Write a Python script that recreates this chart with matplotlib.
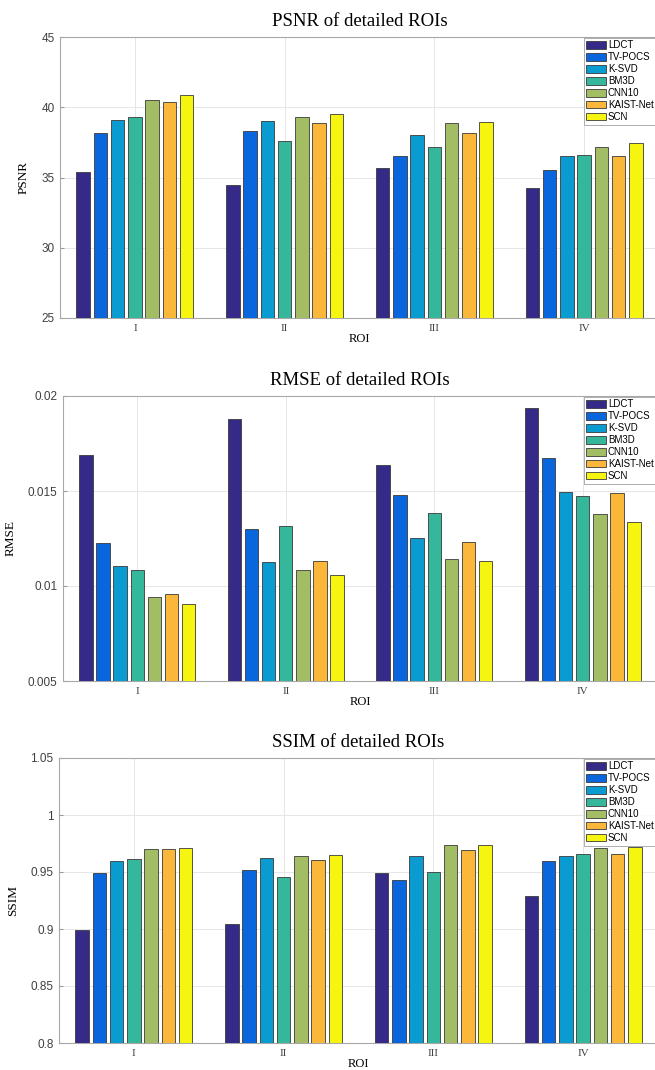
import numpy as np
import matplotlib
matplotlib.use("Agg")
import matplotlib.pyplot as plt

# data
rois = ["I", "II", "III", "IV"]
methods = ["LDCT", "TV-POCS", "K-SVD", "BM3D", "CNN10", "KAIST-Net", "SCN"]
colors = ["#352a87", "#0a66dc", "#0a9bd0", "#35b79c", "#a3bd65", "#fbb739", "#f6f50f"]

# rows = methods, columns = ROI I..IV
psnr = [
    [35.4, 34.45, 35.7, 34.25],
    [38.2, 38.3, 36.55, 35.5],
    [39.1, 39.0, 38.0, 36.5],
    [39.3, 37.6, 37.15, 36.6],
    [40.5, 39.3, 38.85, 37.2],
    [40.35, 38.9, 38.2, 36.55],
    [40.85, 39.5, 38.95, 37.45],
]
rmse = [
    [0.01688, 0.01881, 0.01639, 0.01937],
    [0.01224, 0.01301, 0.01481, 0.01674],
    [0.01106, 0.01124, 0.01255, 0.01493],
    [0.01082, 0.01317, 0.01383, 0.01472],
    [0.00942, 0.01084, 0.01140, 0.01380],
    [0.00959, 0.01133, 0.01231, 0.01488],
    [0.00905, 0.01057, 0.01129, 0.01336],
]
ssim = [
    [0.8995, 0.9041, 0.9494, 0.9289],
    [0.9488, 0.9518, 0.9430, 0.9596],
    [0.9594, 0.9623, 0.9637, 0.9637],
    [0.9611, 0.9456, 0.9497, 0.9655],
    [0.9699, 0.9637, 0.9734, 0.9713],
    [0.9705, 0.9602, 0.9690, 0.9658],
    [0.9713, 0.9649, 0.9734, 0.9719],
]

panels = [
    ("PSNR of detailed ROIs", "PSNR", psnr, (25, 45), [25, 30, 35, 40, 45],
     ["25", "30", "35", "40", "45"], [60, 37, 659, 318]),
    ("RMSE of detailed ROIs", "RMSE", rmse, (0.005, 0.02), [0.005, 0.01, 0.015, 0.02],
     ["0.005", "0.01", "0.015", "0.02"], [63, 396, 657, 681]),
    ("SSIM of detailed ROIs", "SSIM", ssim, (0.8, 1.05), [0.8, 0.85, 0.9, 0.95, 1.0, 1.05],
     ["0.8", "0.85", "0.9", "0.95", "1", "1.05"], [59, 758, 658, 1043]),
]

W, H = 655, 1070
fig = plt.figure(figsize=(W / 100, H / 100), dpi=100)

serif = ["Liberation Serif", "DejaVu Serif"]
sans = ["Liberation Sans", "DejaVu Sans"]

x = np.arange(1, len(rois) + 1)
pitch = 0.115
width = 0.09

for title, ylabel, vals, ylim, yt, ytl, box in panels:
    l, t, r, b = box
    ax = fig.add_axes([l / W, 1 - b / H, (r - l) / W, (b - t) / H])
    for i, m in enumerate(methods):
        off = (i - 3) * pitch
        ax.bar(x + off, vals[i], width=width, color=colors[i], edgecolor="#3a3a3a",
               linewidth=0.6, label=m, zorder=3, bottom=0)
    ax.set_xlim(0.5, 4.5)
    ax.set_ylim(*ylim)
    ax.set_yticks(yt)
    ax.set_yticklabels(ytl, fontfamily=sans, fontsize=8.5, color="#404040")
    ax.set_xticks(x)
    ax.set_xticklabels(rois, fontfamily=serif, fontsize=8, color="#404040")
    ax.grid(True, color="#e6e6e6", linewidth=0.7, zorder=0)
    ax.tick_params(direction="in", length=3, color="#9a9a9a")
    ax.tick_params(axis="x", pad=4)
    ax.tick_params(axis="y", pad=4)
    for s in ax.spines.values():
        s.set_color("#a8a8a8")
        s.set_linewidth(0.8)
    ax.set_title(title, fontfamily=serif, fontsize=13.5, pad=8)
    ax.set_ylabel(ylabel, fontfamily=serif, fontsize=9.5, labelpad=8)
    ax.set_xlabel("ROI", fontfamily=serif, fontsize=9, labelpad=0)
    leg = ax.legend(loc="upper left", bbox_to_anchor=((583 - l) / (r - l), 1.0),
                    prop={"family": sans, "size": 7}, frameon=True, fancybox=False,
                    handlelength=2.0, handleheight=0.8, handletextpad=0.2,
                    labelspacing=0.2, borderpad=0.25, borderaxespad=0.1)
    leg.get_frame().set_edgecolor("#9a9a9a")
    leg.get_frame().set_linewidth(0.7)
    leg.set_zorder(5)

fig.savefig("out.png", dpi=100)
